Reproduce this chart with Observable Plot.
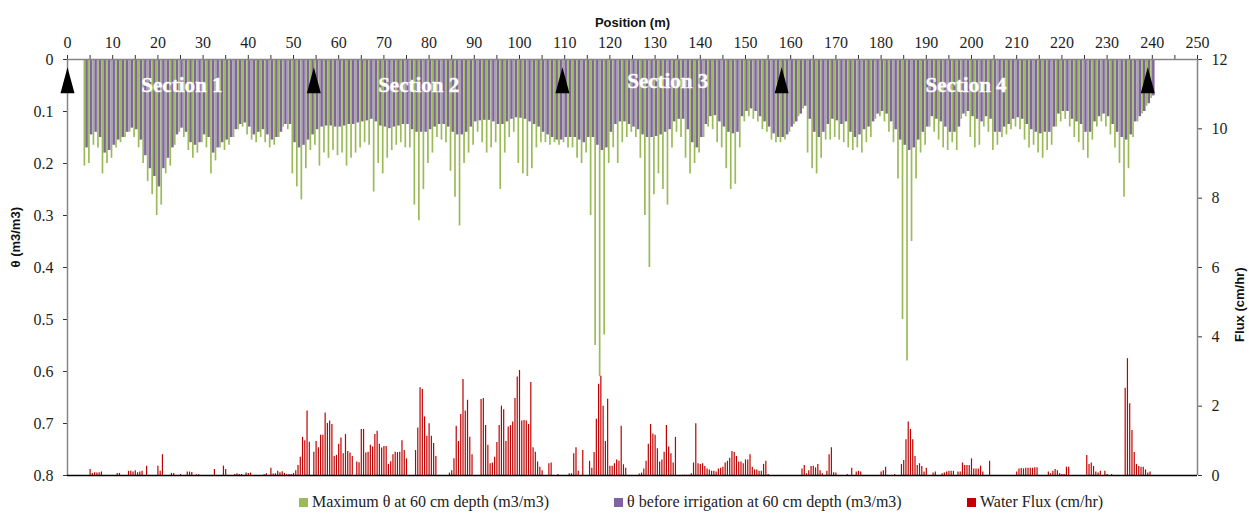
<!DOCTYPE html>
<html>
<head>
<meta charset="utf-8">
<script src="https://cdn.jsdelivr.net/npm/d3@7"></script>
<script src="https://cdn.jsdelivr.net/npm/@observablehq/plot@0.6"></script>
<style>
  html, body { margin: 0; padding: 0; background: #fff; }
  #chart { position: relative; width: 1249px; height: 516px; overflow: hidden; }
  #chart svg { position: absolute; left: 0; top: 0; }
  .legend { position: absolute; top: 492px; height: 20px; display: flex; align-items: center;
            font: 16px "Liberation Serif", "Times New Roman", serif; color: #222; white-space: nowrap; }
  .legend i { display: inline-block; width: 9px; height: 9px; margin-right: 4px; }
</style>
</head>
<body>
<div id="chart"></div>
<script>
// Soil moisture at 60 cm depth along the field (1 m steps, 4–240 m)
const positions = d3.range(4, 241);

// θ before irrigation (m3/m3)
const thetaBefore = [
  .17, .145, .14, .15, .18, .175, .165, .155, .15, .14,
  .132, .135, .155, .185, .21, .225, .245, .21, .19, .17,
  .145, .132, .14, .16, .165, .16, .145, .15, .18, .17,
  .16, .155, .15, .135, .125, .122, .13, .145, .14, .135,
  .145, .155, .15, .14, .125, .125, .16, .17, .165, .155,
  .145, .135, .13, .128, .128, .13, .13, .128, .125, .125,
  .122, .12, .118, .115, .12, .128, .13, .133, .13, .128,
  .125, .125, .135, .14, .14, .14, .135, .13, .125, .125,
  .13, .14, .145, .145, .14, .13, .12, .118, .117, .117,
  .12, .125, .125, .12, .115, .112, .113, .115, .12, .125,
  .13, .14, .145, .15, .155, .155, .15, .15, .15, .155,
  .16, .15, .15, .165, .175, .17, .14, .125, .12, .12,
  .125, .13, .135, .145, .15, .15, .148, .145, .14, .135,
  .12, .115, .115, .135, .16, .17, .15, .125, .11, .108,
  .12, .13, .14, .143, .14, .11, .1, .095, .1, .11,
  .12, .13, .143, .15, .15, .145, .13, .12, .105, .09,
  .115, .14, .15, .14, .125, .115, .118, .125, .12, .14,
  .15, .145, .135, .13, .12, .105, .1, .105, .12, .135,
  .155, .165, .175, .17, .155, .14, .13, .11, .115, .12,
  .13, .14, .14, .13, .105, .1, .11, .115, .12, .11,
  .115, .14, .14, .13, .125, .115, .112, .115, .125, .135,
  .14, .143, .14, .14, .13, .105, .1, .1, .115, .12,
  .125, .14, .14, .12, .11, .105, .11, .125, .14, .15,
  .155, .145, .12, .11, .1, .085, .07
];

// Maximum θ reached during irrigation (m3/m3)
const thetaMax = [
  .205, .20, .165, .17, .22, .20, .19, .17, .16, .15,
  .14, .15, .17, .20, .235, .26, .30, .28, .22, .205,
  .165, .14, .15, .175, .19, .18, .16, .17, .22, .195,
  .17, .175, .165, .15, .135, .13, .145, .155, .16, .15,
  .16, .17, .165, .15, .13, .135, .22, .245, .27, .21,
  .175, .165, .205, .18, .19, .175, .185, .18, .205, .19,
  .18, .17, .16, .165, .255, .2, .22, .19, .175, .165,
  .16, .17, .17, .28, .31, .25, .2, .18, .15, .155,
  .16, .215, .265, .32, .2, .18, .165, .14, .16, .18,
  .17, .16, .25, .18, .15, .14, .2, .22, .225, .21,
  .17, .16, .16, .165, .16, .165, .16, .17, .17, .19,
  .2, .18, .30, .55, .61, .53, .2, .17, .2, .16,
  .15, .14, .15, .19, .30, .40, .26, .22, .25, .28,
  .17, .14, .15, .19, .22, .2, .18, .15, .13, .135,
  .16, .17, .21, .25, .24, .17, .12, .11, .115, .12,
  .135, .14, .155, .16, .16, .155, .14, .125, .11, .095,
  .18, .21, .22, .19, .155, .155, .15, .155, .16, .17,
  .175, .17, .18, .16, .15, .115, .11, .12, .14, .16,
  .23, .50, .58, .35, .23, .18, .165, .13, .14, .155,
  .17, .175, .16, .175, .115, .11, .15, .17, .165, .13,
  .14, .175, .165, .15, .145, .135, .13, .135, .155, .17,
  .165, .18, .19, .175, .165, .13, .12, .115, .13, .15,
  .16, .175, .19, .155, .13, .12, .13, .145, .17, .2,
  .265, .21, .15, .12, .105, .09, .075
];

// Water flux readings (0.5 m steps; positions without flux are omitted)
const fluxPos = [
  5, 5.5, 6, 6.5, 7, 7.5,
  11, 11.5, 13.5, 14, 14.5, 15, 15.5, 16, 16.5, 17.5,
  20, 20.5, 21, 23, 23.5, 25, 26.5, 27, 27.5, 28.5, 29,
  32.5, 34.5, 35, 37, 37.5, 38, 38.5, 39.5, 40, 40.5, 43.5, 44,
  45, 45.5, 46, 46.5, 47, 47.5, 48, 48.5, 49, 49.5,
  50, 50.5, 51, 51.5, 52, 52.5, 53, 53.5,
  54.5, 55, 55.5, 56, 56.5, 57, 57.5, 58, 58.5, 59,
  59.5, 60, 60.5, 61, 61.5, 62, 62.5, 63, 64, 64.5,
  65, 65.5, 66, 66.5, 67, 67.5, 68, 68.5, 69, 69.5,
  70, 70.5, 71, 71.5, 72, 72.5, 73, 73.5, 74, 74.5, 75,
  77, 77.5, 78, 78.5, 79, 79.5, 80, 80.5, 81, 81.5,
  84.5, 85, 85.5, 86, 86.5, 87, 87.5, 88, 88.5, 89, 89.5,
  91.5, 92, 92.5, 93, 93.5, 94, 94.5, 95, 95.5, 96,
  96.5, 97, 97.5, 98, 98.5, 99, 99.5, 100, 100.5, 101,
  101.5, 102, 102.5, 103, 103.5, 104, 104.5, 105, 106.5, 107, 108.5,
  111, 111.5, 112, 112.5, 113, 114, 115.5, 116, 116.5,
  117, 117.5, 118, 118.5, 119, 119.5, 120, 120.5, 121, 121.5,
  122, 122.5, 123, 123.5, 126.5, 127, 127.5, 128, 128.5, 129,
  129.5, 130, 130.5, 131, 131.5, 132, 132.5, 133, 133.5, 134, 134.5,
  136, 136.5, 137, 137.5, 138, 138.5, 139, 139.5, 140, 140.5,
  141, 141.5, 142, 142.5, 143, 143.5, 144, 144.5, 145, 145.5,
  146, 146.5, 147, 147.5, 148, 148.5, 149, 149.5, 150, 150.5,
  151, 151.5, 152, 152.5, 153, 153.5, 154, 154.5, 155,
  162.5, 163, 163.5, 164, 164.5, 165, 165.5, 166, 166.5, 167,
  168, 168.5, 169, 169.5, 170, 172.5, 173.5, 174.5, 175, 175.5,
  180, 180.5, 181, 183, 184.5, 185, 185.5, 186, 186.5, 187,
  187.5, 188, 188.5, 189, 189.5, 190, 191.5, 192, 193.5, 194,
  194.5, 195, 195.5, 196, 197, 197.5, 198, 198.5, 199, 199.5,
  200, 200.5, 201, 201.5, 202, 202.5, 204,
  210, 210.5, 211, 211.5, 212, 212.5, 213, 213.5, 214, 214.5,
  217, 217.5, 218, 218.5, 219, 219.5, 220, 220.5, 221, 221.5,
  225.5, 226, 226.5, 227, 227.5, 228, 228.5, 229.5, 230, 231,
  234, 234.5, 235, 235.5, 236, 236.5, 237, 237.5, 238, 238.5, 239, 239.5
];

// Water flux (cm/hr), one value per entry of fluxPos
const fluxCmHr = [
  .17, .06, .08, .07, .08, .1,
  .06, .06, .12, .12, .1, .14, .08, .1, .12, .27,
  .27, .12, .6, .06, .06, .03, .1, .1, .09, .02, .02,
  .17, .27, .17, .03, .05, .03, .03, .07, .06, .07, .03, .05,
  .21, .04, .05, .12, .08, .11, .06, .03, .03, .03,
  .06, .14, .29, .53, 1.1, 1.0, 1.86, .96,
  .67, .98, .8, 1.16, 1.16, 1.8, 1.5, 1.57, 1.47, .55,
  .58, .9, 1.08, .63, 1.18, .69, .65, .55, .39, .37,
  1.33, 1.33, .65, .67, .87, .82, 1.18, 1.28, .9, .79,
  .84, .84, .32, .4, .6, .67, .66, .67, 1.0, .72, .48,
  .72, 1.37, 2.53, 2.48, 1.69, 1.13, 1.49, 1.13, .92, .55,
  .07, .14, .48, 1.42, .98, 1.76, 2.77, 1.86, 2.17, 1.1, .6,
  2.19, 2.22, 1.44, .87, .34, .36, .53, .95, 1.44, 2.0,
  1.9, .98, 1.4, 1.44, 1.54, 2.22, 2.84, 3.03, 1.57, 1.59,
  1.57, 1.47, 2.68, .8, .67, .39, .24, .14, .34, .36, .03,
  .05, .05, .63, .8, .12, .72, .41, .21, .66,
  1.62, 2.63, 2.86, 2.0, .98, 2.2, .27, .27, .34, .45,
  .41, 1.42, .31, .21, .04, .07, .19, .41, .9, 1.47,
  1.2, 1.16, .77, .39, .45, .67, 1.44, .82, .63, .36, 1.1,
  .01, .01, .01, .01, .05, .36, 1.49, .34, .32, .34,
  .26, .19, .16, .12, .12, .1, .19, .21, .24, .36,
  .41, .5, .69, .66, .55, .39, .39, .34, .45, .45,
  .6, .24, .16, .16, .12, .12, .32, .41, .03,
  .19, .29, .05, .14, .26, .27, .22, .32, .14, .05,
  .12, .6, .8, .08, .07, .03, .21, .1, .12, .1,
  .1, .14, .24, .03, .32, .43, 1.03, 1.54, 1.33, 1.03,
  .55, .29, .34, .26, .1, .21, .07, .1, .05, .07,
  .1, .12, .12, .12, .1, .1, .36, .29, .29, .29,
  .48, .19, .19, .19, .27, .1, .41,
  .1, .19, .2, .19, .21, .21, .21, .21, .22, .22,
  .1, .05, .12, .17, .14, .05, .03, .03, .24, .24,
  .58, .32, .36, .26, .1, .07, .12, .12, .03, .03,
  2.52, 3.37, 2.07, 1.3, .66, .32, .26, .24, .24, .16, .07, .1
];

// Section boundary markers (m) and section labels
const boundaryPos = [0, 54.5, 109.5, 158, 239];
const sectionNames = ["Section 1", "Section 2", "Section 3", "Section 4"];
const sectionCentre = [25.3, 77.7, 132.8, 198.8];
const sectionDepth = [0.05, 0.05, 0.042, 0.05];

// Axis ticks
const positionTicks = d3.range(0, 251, 10);
const positionMinorTicks = d3.range(5, 251, 10);
const thetaTicks = [0, 0.1, 0.2, 0.3, 0.4, 0.5, 0.6, 0.7, 0.8];
const fluxTicks = [0, 2, 4, 6, 8, 10, 12];

const GREEN = "#9BBB59", PURPLE = "#8064A2", RED = "#C00000", AXIS = "#868686";
const SERIF = "'Liberation Serif', 'Times New Roman', serif";
const SANS = "'Liberation Sans', Arial, sans-serif";
const tickText = {fontFamily: SERIF, fontSize: 16, fill: "#1e1e1e", stroke: "#333"};

const moisture = positions.map((p, i) => ({p, before: thetaBefore[i], max: thetaMax[i]}));
const flux = fluxPos.map((p, i) => ({p, f: fluxCmHr[i]}));
const boundaries = boundaryPos.map(p => ({p}));
const sections = sectionNames.map((name, i) => ({name, p: sectionCentre[i], y: sectionDepth[i]}));

// Tall upward triangle used for the section boundary markers
const tallTriangle = {
  draw(context) {
    context.moveTo(0, -13);
    context.lineTo(7, 13);
    context.lineTo(-7, 13);
    context.closePath();
  }
};

const frame = {
  width: 1249, height: 487,
  marginTop: 59, marginLeft: 67, marginRight: 52, marginBottom: 12,
  style: {fontFamily: SERIF, fontSize: "16px", color: "#222", background: "transparent", overflow: "visible"}
};

const thetaPlot = Plot.plot({
  ...frame,
  x: {domain: [0, 250], axis: null},
  y: {domain: [0, 0.8], reverse: true, axis: null},
  marks: [
    Plot.ruleX(moisture, {x: "p", y1: 0, y2: "max", stroke: GREEN, strokeWidth: 1.7, dx: -1.2}),
    Plot.ruleX(moisture, {x: "p", y1: 0, y2: "before", stroke: PURPLE, strokeWidth: 2.5, dx: 1.0}),
    Plot.axisX(positionTicks, {anchor: "top", tickSize: 5, tickPadding: 7, label: null, ...tickText}),
    Plot.axisX(positionMinorTicks, {anchor: "top", tickSize: 5, tickFormat: () => "", label: null, ...tickText}),
    Plot.axisY(thetaTicks, {anchor: "left", tickSize: 4, tickPadding: 10, tickFormat: d => String(d),
      label: null, ...tickText}),
    Plot.ruleY([0], {stroke: AXIS, strokeWidth: 1.5}),
    Plot.ruleX([0], {stroke: AXIS, strokeWidth: 1.5}),
    Plot.dot(boundaries, {x: "p", y: 0.04, symbol: tallTriangle, fill: "#000", stroke: "none"}),
    Plot.text(sections, {x: "p", y: "y", text: "name", fill: "#fff", stroke: "#f2f2f2", strokeWidth: 0.4,
      fontFamily: SERIF, fontWeight: "bold", fontSize: 21}),
    Plot.text(["Position (m)"], {text: d => d, frameAnchor: "top", dy: -42,
      fontFamily: SANS, fontWeight: "bold", fontSize: 13, fill: "#111"}),
    Plot.text(["θ (m3/m3)"], {text: d => d, frameAnchor: "left", dx: -52, rotate: -90,
      fontFamily: SANS, fontWeight: "bold", fontSize: 13, fill: "#111"})
  ]
});

const fluxPlot = Plot.plot({
  ...frame,
  x: {domain: [0, 250], axis: null},
  y: {domain: [0, 12], axis: null},
  marks: [
    Plot.ruleX(flux, {x: "p", y1: 0, y2: "f", stroke: RED, strokeWidth: 1.2}),
    Plot.axisY(fluxTicks, {anchor: "right", tickSize: 4, tickPadding: 10, label: null, ...tickText}),
    Plot.ruleX([250], {stroke: AXIS, strokeWidth: 1.5}),
    Plot.ruleY([0], {stroke: "#000", strokeWidth: 1.6}),
    Plot.text(["Flux (cm/hr)"], {text: d => d, frameAnchor: "right", dx: 42, rotate: -90,
      fontFamily: SANS, fontWeight: "bold", fontSize: 13, fill: "#111"})
  ]
});

const chart = document.getElementById("chart");
chart.append(thetaPlot, fluxPlot);

// Legend under the plot
const legendItems = [
  {label: "Maximum θ at 60 cm depth (m3/m3)", color: GREEN, left: 299},
  {label: "θ before irrigation at 60 cm depth (m3/m3)", color: PURPLE, left: 614},
  {label: "Water Flux (cm/hr)", color: RED, left: 967}
];
for (const item of legendItems) {
  const div = document.createElement("div");
  div.className = "legend";
  div.style.left = item.left + "px";
  const swatch = document.createElement("i");
  swatch.style.background = item.color;
  div.append(swatch, document.createTextNode(item.label));
  chart.append(div);
}
</script>
</body>
</html>
